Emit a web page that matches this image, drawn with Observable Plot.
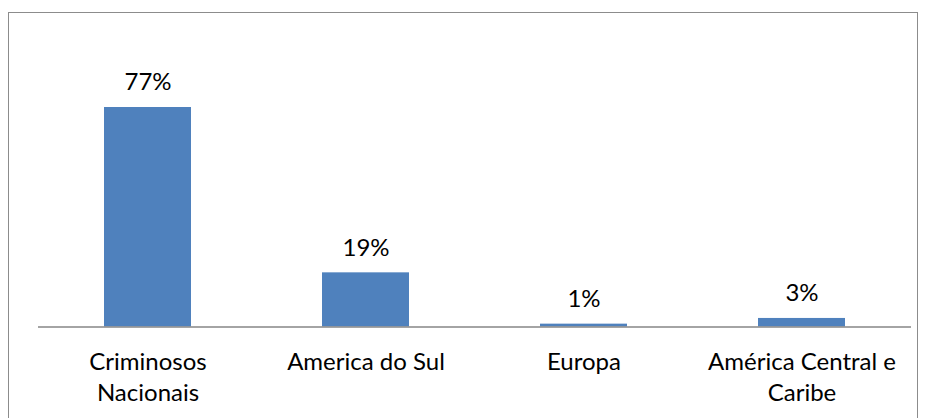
<!DOCTYPE html>
<html>
<head>
<meta charset="utf-8">
<script src="https://cdn.jsdelivr.net/npm/d3@7"></script>
<script src="https://cdn.jsdelivr.net/npm/@observablehq/plot@0.6"></script>
<style>
  html, body { margin: 0; padding: 0; background: #fff; }
  #wrap { position: relative; width: 926px; height: 418px; overflow: hidden; }
  #border { position: absolute; left: 8px; top: 12px; width: 910px; height: 420px; border: 1.5px solid #8c8c8c; box-sizing: border-box; pointer-events: none; }
  #chart { position: absolute; left: 0; top: 0; }
</style>
</head>
<body>
<div id="wrap"><div id="chart"></div><div id="border"></div></div>
<script>
const categories = ["Criminosos Nacionais", "America do Sul", "Europa", "América Central e Caribe"];
const categoryLabels = ["Criminosos\nNacionais", "America do Sul", "Europa", "América Central e\nCaribe"];
const values = [77, 19, 1, 3];
const valueLabels = ["77%", "19%", "1%", "3%"];

const data = categories.map((c, i) => ({cat: c, label: categoryLabels[i], v: values[i], vl: valueLabels[i]}));

const font = "Lato, 'Open Sans', sans-serif";
const chart = Plot.plot({
  width: 926,
  height: 418,
  marginLeft: 38,
  marginRight: 15,
  marginTop: 107,
  marginBottom: 91.5,
  style: {fontFamily: font, background: "transparent"},
  x: {domain: categories, paddingInner: 0.6, paddingOuter: 0.3, axis: null},
  y: {domain: [0, 77], axis: null},
  marks: [
    Plot.barY(data, {x: "cat", y: "v", fill: "#4F81BD"}),
    Plot.ruleY([0], {stroke: "#868686", strokeWidth: 1.5}),
    Plot.text(data, {x: "cat", y: "v", text: "vl", dy: -25, fontSize: 24, fill: "#000"}),
    Plot.text(data, {x: "cat", y: 0, text: "label", lineAnchor: "top", dy: 21, lineHeight: 1.3, fontSize: 24, fill: "#000"})
  ]
});
document.getElementById("chart").appendChild(chart);
</script>
</body>
</html>
